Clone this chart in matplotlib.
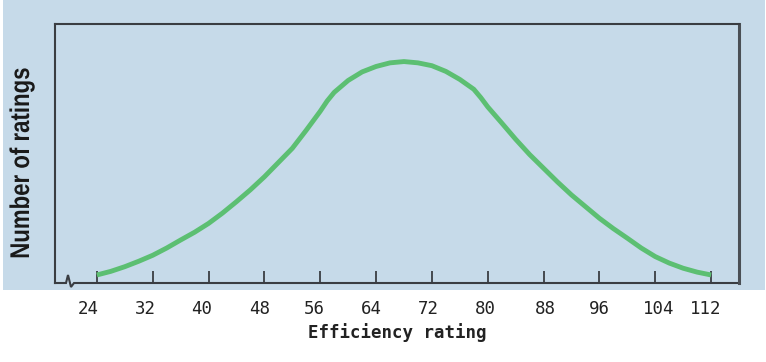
import matplotlib
matplotlib.use("Agg")
import matplotlib.pyplot as plt
import matplotlib.transforms as mtransforms
import matplotlib.patheffects as pe
from matplotlib.patches import Rectangle
from matplotlib.lines import Line2D

# values (y in % of axis height)
rating = [24, 26, 28, 30, 32, 34, 36, 38, 40, 42, 44, 46, 48, 50, 52, 54, 56, 57, 58, 60, 62, 64, 66,
          68, 70, 72, 74, 76, 78, 79, 80, 82, 84, 86, 88, 90, 92, 94, 96, 98, 100, 102, 104, 106, 108, 110, 112]
count = [3.1, 4.5, 6.3, 8.4, 10.7, 13.5, 16.6, 19.6, 23.0, 27.0, 31.4, 36.0, 41.0, 46.5, 52.0, 59.0, 66.3, 70.3, 73.6,
         78.2, 81.5, 83.6, 85.0, 85.5, 85.0, 83.9, 81.7, 78.6, 74.8, 71.6, 68.0, 61.8, 55.5, 49.6, 44.3, 39.0,
         34.0, 29.5, 25.0, 21.0, 17.3, 13.5, 10.2, 7.7, 5.7, 4.2, 3.1]
tick_vals = [24, 32, 40, 48, 56, 64, 72, 80, 88, 96, 104, 112]

# small horizontal nudges (px) of the tick labels, as in the original
label_shift = [-8.5, -7.5, -7, -5, -5.5, -4.5, -4, -2, 2, 0, 3, -5]

BLUE = '#c6dae9'
GREEN = '#5cbf72'
DARK = '#3a3d42'


class Squeeze(pe.AbstractPathEffect):
    """narrow the glyphs horizontally (like a condensed face)"""
    def __init__(self, sx):
        super().__init__()
        self.sx = sx

    def draw_path(self, renderer, gc, tpath, affine, rgbFace=None):
        ext = tpath.get_extents()
        cx = (ext.x0 + ext.x1) / 2
        aff = mtransforms.Affine2D().translate(-cx, 0).scale(self.sx, 1).translate(cx, 0) + affine
        renderer.draw_path(gc, tpath, aff, rgbFace)


fig = plt.figure(figsize=(7.66, 3.62), dpi=100)
fig.patch.set_facecolor('white')

# blue panel behind the plot
fig.patches.append(Rectangle((3 / 766, 1 - 290 / 362), 762 / 766, 290 / 362,
                             transform=fig.transFigure, facecolor=BLUE,
                             edgecolor='none', zorder=-10))

ax = fig.add_axes([55 / 766, 1 - 283 / 362, 684 / 766, 259 / 362])
ax.set_facecolor(BLUE)
ax.plot(rating, count, color=GREEN, lw=3.5, solid_capstyle='butt', solid_joinstyle='round')

ax.set_xlim(18, 116)
ax.set_ylim(0, 100)
ax.set_yticks([])
ax.set_xticks(tick_vals)
ax.set_xticklabels([str(v) for v in tick_vals], family='DejaVu Sans Mono', fontsize=12.5, color='#222222')
ax.tick_params(axis='x', direction='in', length=9, width=1.3, color=DARK, pad=12)

for lab, dx in zip(ax.get_xticklabels(), label_shift):
    lab.set_transform(lab.get_transform() + mtransforms.ScaledTranslation(dx / 100, 0, fig.dpi_scale_trans))

for s in ['left', 'top', 'right']:
    ax.spines[s].set_color(DARK)
    ax.spines[s].set_linewidth(1.5)
ax.spines['right'].set_linewidth(2.2)
ax.spines['right'].set_color('#4a4f55')
ax.spines['bottom'].set_visible(False)

# bottom axis line with the break mark
bx = [0, 11, 13, 16, 19, 684]
by = [0, 0, 8, -4, 0, 0]
fx = [v / 684 for v in bx]
fy = [v / 259 for v in by]
ax.add_line(Line2D(fx, fy, transform=ax.transAxes, color=DARK, lw=1.5, clip_on=False,
                   solid_joinstyle='miter'))

ax.set_xlabel('Efficiency rating', family='DejaVu Sans Mono', fontweight='bold',
              fontsize=12.5, color='#222222', labelpad=4)

fig.text(22 / 766, 1 - 163 / 362, 'Number of ratings', rotation=90,
         family=['Liberation Sans', 'DejaVu Sans'], fontweight='bold',
         fontsize=19.5, color='#1a1a1a', ha='center', va='center',
         path_effects=[Squeeze(0.82)])

fig.savefig('out.png', dpi=100, facecolor='white')
